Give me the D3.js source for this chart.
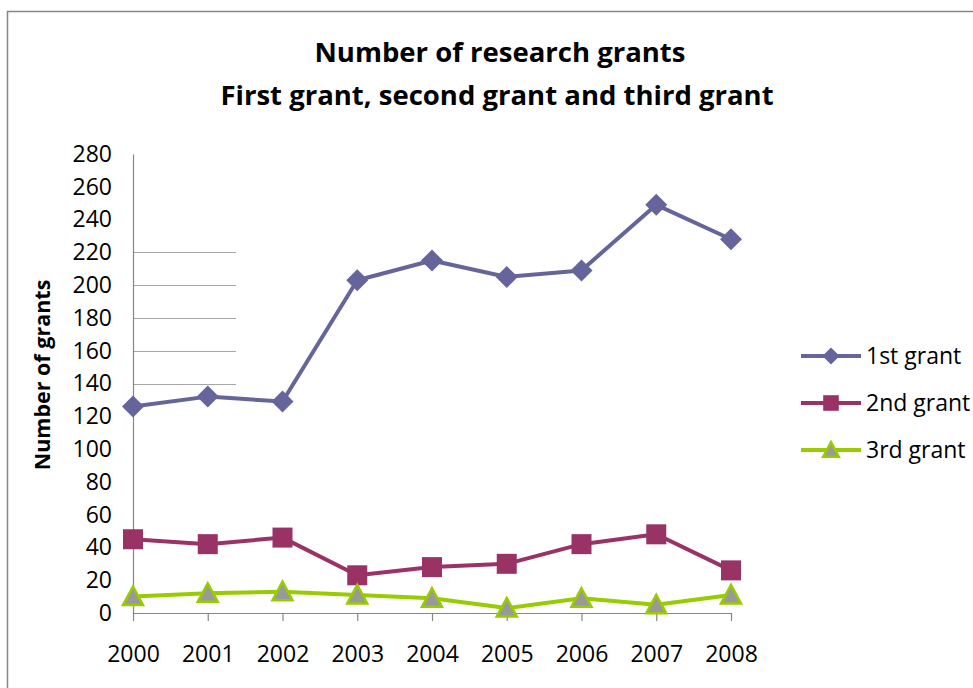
<!DOCTYPE html>
<html>
<head>
<meta charset="utf-8">
<script src="https://cdn.jsdelivr.net/npm/d3@7"></script>
<style>
  body { margin: 0; background: #fff; }
  svg { display: block; font-family: "Open Sans", sans-serif; }
</style>
</head>
<body>
<div id="chart"></div>
<script>
// chart data
const years = ["2000", "2001", "2002", "2003", "2004", "2005", "2006", "2007", "2008"];
const firstGrant  = [126, 132, 129, 203, 215, 205, 209, 249, 228];
const secondGrant = [45, 42, 46, 23, 28, 30, 42, 48, 26];
const thirdGrant  = [10, 12, 13, 11, 9, 3, 9, 5, 11];
const seriesNames = ["1st grant", "2nd grant", "3rd grant"];
const yTicks = d3.range(0, 281, 20);
const partialGrid = [140, 160, 180, 200, 220]; // odd short gridlines in the original

const width = 973, height = 688;

const svg = d3.select("#chart").append("svg")
    .attr("width", width)
    .attr("height", height);

// outer chart border
svg.append("rect")
    .attr("x", 7.5).attr("y", 11.5)
    .attr("width", 980).attr("height", 700)
    .attr("fill", "none")
    .attr("stroke", "#868686")
    .attr("stroke-width", 1.5);

// title
const title = svg.append("text")
    .attr("text-anchor", "middle")
    .attr("font-weight", "bold")
    .attr("font-size", 27.5)
    .attr("fill", "#000");
title.append("tspan").attr("x", 500).attr("y", 62).text("Number of research grants");
title.append("tspan").attr("x", 497).attr("y", 105).text("First grant, second grant and third grant");

// scales
const x = d3.scalePoint().domain(years).range([133, 731]);
const y = d3.scaleLinear().domain([0, 280]).range([613, 154]);

// short gridlines
svg.append("g")
    .selectAll("line")
    .data(partialGrid)
    .enter()
    .append("line")
    .attr("x1", 133).attr("x2", 236)
    .attr("y1", d => Math.round(y(d)) + 0.5)
    .attr("y2", d => Math.round(y(d)) + 0.5)
    .attr("stroke", "#a6a6a6")
    .attr("stroke-width", 1.2);

// y axis
const yAxis = svg.append("g")
    .attr("transform", "translate(133,0)")
    .call(d3.axisLeft(y).tickValues(yTicks).tickSize(0).tickPadding(21));
yAxis.select(".domain").attr("stroke", "#868686").attr("stroke-width", 1.2);
yAxis.selectAll("text")
    .attr("font-family", "Open Sans, sans-serif")
    .attr("font-size", 23)
    .attr("fill", "#000");

// x axis
const xAxis = svg.append("g")
    .attr("transform", "translate(0,613)")
    .call(d3.axisBottom(x).tickSize(8).tickSizeOuter(0).tickPadding(25));
xAxis.select(".domain").attr("stroke", "#868686").attr("stroke-width", 1.2);
xAxis.selectAll(".tick line").attr("stroke", "#868686").attr("stroke-width", 1.2);
xAxis.selectAll("text")
    .attr("font-family", "Open Sans, sans-serif")
    .attr("font-size", 23)
    .attr("fill", "#000");

// y axis title
svg.append("text")
    .attr("transform", "translate(50,375) rotate(-90)")
    .attr("text-anchor", "middle")
    .attr("font-weight", "bold")
    .attr("font-size", 21.5)
    .text("Number of grants");

// series
const series = [
    { name: seriesNames[0], values: firstGrant, color: "#65659b", shape: "diamond" },
    { name: seriesNames[1], values: secondGrant, color: "#993366", shape: "square" },
    { name: seriesNames[2], values: thirdGrant, color: "#99cc00", shape: "triangle" }
];

const line = d3.line()
    .x((d, i) => x(years[i]))
    .y(d => y(d));

function drawMarker(g, shape, color, scale) {
    if (shape === "diamond") {
        const s = 11 * scale;
        g.append("path")
            .attr("d", `M0,${-s}L${s},0L0,${s}L${-s},0Z`)
            .attr("fill", color);
    } else if (shape === "square") {
        const s = 10 * scale;
        g.append("rect")
            .attr("x", -s).attr("y", -s)
            .attr("width", 2 * s).attr("height", 2 * s)
            .attr("fill", color);
    } else {
        const s = 10 * scale;
        g.append("path")
            .attr("d", `M0,${-s}L${s},${s * 0.85}L${-s},${s * 0.85}Z`)
            .attr("fill", "#999999")
            .attr("stroke", color)
            .attr("stroke-width", 2.5)
            .attr("stroke-linejoin", "miter");
    }
}

series.forEach(s => {
    svg.append("path")
        .datum(s.values)
        .attr("d", line)
        .attr("fill", "none")
        .attr("stroke", s.color)
        .attr("stroke-width", 4)
        .attr("stroke-linejoin", "round");

    s.values.forEach((v, i) => {
        const g = svg.append("g")
            .attr("transform", `translate(${x(years[i])},${y(v)})`);
        drawMarker(g, s.shape, s.color, 1);
    });
});

// legend
const legend = svg.append("g");
series.forEach((s, i) => {
    const ly = 356 + i * 47;
    legend.append("line")
        .attr("x1", 801).attr("x2", 861)
        .attr("y1", ly).attr("y2", ly)
        .attr("stroke", s.color)
        .attr("stroke-width", 4);
    const g = legend.append("g").attr("transform", `translate(831,${ly})`);
    drawMarker(g, s.shape, s.color, 0.78);
    legend.append("text")
        .attr("x", 866)
        .attr("y", ly)
        .attr("dy", "0.35em")
        .attr("font-size", 23)
        .text(s.name);
});
</script>
</body>
</html>
